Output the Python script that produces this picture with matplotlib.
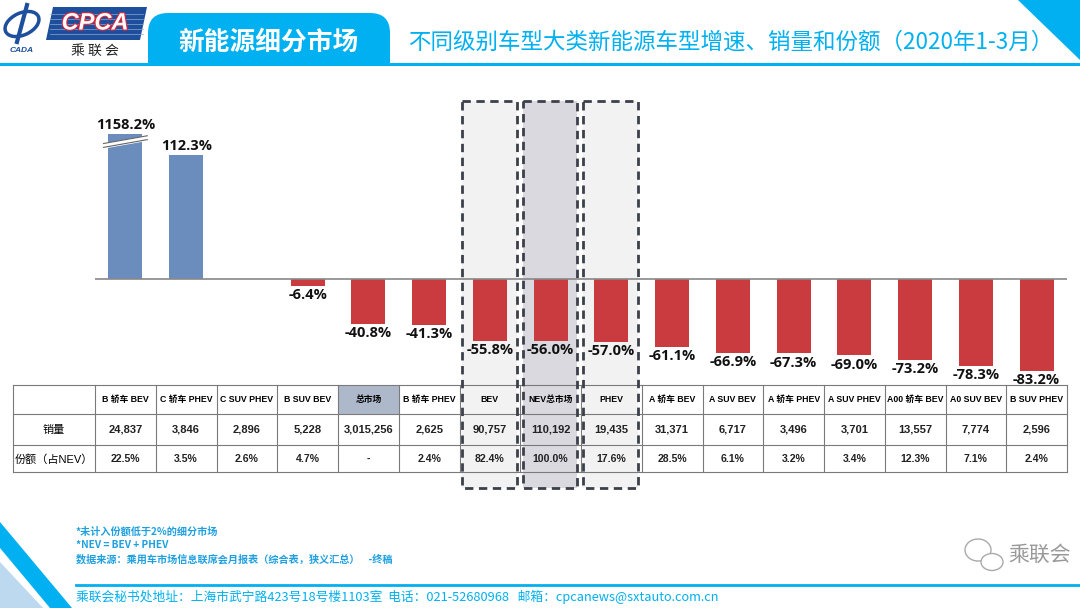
import numpy as np
import matplotlib
matplotlib.use("Agg")
import matplotlib.pyplot as plt
import matplotlib.patheffects as pe
from matplotlib.patches import Rectangle, Polygon, FancyBboxPatch, Ellipse, Arc
from matplotlib.transforms import blended_transform_factory

plt.rcParams['font.family'] = ['Open Sans', 'Noto Sans CJK SC', 'DejaVu Sans']

# 数据
categories = ["B 轿车 BEV", "C 轿车 PHEV", "C SUV PHEV", "B SUV BEV", "总市场", "B 轿车 PHEV",
              "BEV", "NEV总市场", "PHEV", "A 轿车 BEV", "A SUV BEV", "A 轿车 PHEV",
              "A SUV PHEV", "A00 轿车 BEV", "A0 SUV BEV", "B SUV PHEV"]
growth = [1158.2, 112.3, None, -6.4, -40.8, -41.3, -55.8, -56.0, -57.0,
          -61.1, -66.9, -67.3, -69.0, -73.2, -78.3, -83.2]
sales = ["24,837", "3,846", "2,896", "5,228", "3,015,256", "2,625", "90,757", "110,192",
         "19,435", "31,371", "6,717", "3,496", "3,701", "13,557", "7,774", "2,596"]
share = ["22.5%", "3.5%", "2.6%", "4.7%", "-", "2.4%", "82.4%", "100.0%",
         "17.6%", "28.5%", "6.1%", "3.2%", "3.4%", "12.3%", "7.1%", "2.4%"]
row_labels = ["销量", "份额（占NEV）"]
highlight = {"BEV": "#f2f2f2", "NEV总市场": "#d9d9df", "PHEV": "#f2f2f2"}

cap = 131  # 截断显示的上限
W, H = 1080, 608
CYAN = "#00b0f0"
BLUE = "#6b8dbe"
RED = "#c93b3e"

fig = plt.figure(figsize=(W / 100, H / 100), dpi=100)

# 背景装饰用的像素坐标轴
bg = fig.add_axes([0, 0, 1, 1], zorder=-5)
bg.set_xlim(0, W)
bg.set_ylim(H, 0)
bg.axis("off")

# 顶部标签页
tab = FancyBboxPatch((148, 13), 242, 70, boxstyle="round,pad=0,rounding_size=20",
                     fc=CYAN, ec="none")
bg.add_patch(tab)
bg.add_patch(Rectangle((140, 64), 260, 30, fc="white", ec="none", zorder=2))
bg.plot([0, W], [63.5, 63.5], color=CYAN, lw=2.2, zorder=3)
bg.text(268, 42, "新能源细分市场", color="white", fontsize=18.5, fontweight="bold",
        ha="center", va="center", family=["Noto Sans CJK SC"])
bg.text(408, 42, "不同级别车型大类新能源车型增速、销量和份额（2020年1-3月）", color=CYAN,
        fontsize=16.2, ha="left", va="center", family=["Noto Sans CJK SC"])
bg.add_patch(Polygon([(1018, 0), (W, 0), (W, 60)], closed=True, fc=CYAN, ec="none"))

# logo
bg.add_patch(Polygon([(53, 7), (147, 7), (140, 40), (46, 40)], closed=True, fc="#1d4f9c", ec="none"))
for yy in [14, 19, 24, 29, 34]:
    bg.plot([50, 143], [yy, yy], color="#8fa8d0", lw=0.5)
bg.text(95, 23, "CPCA", color="white", fontsize=17, fontstyle="italic", fontweight="bold",
        ha="center", va="center", family=["Liberation Sans"],
        path_effects=[pe.withStroke(linewidth=1.6, foreground="#e0283c")])
bg.text(95, 51, "乘 联 会", color="#222222", fontsize=10, ha="center", va="center",
        family=["Noto Sans CJK SC"])
bg.add_patch(Ellipse((22, 24), 36, 22, angle=-25, fc="none", ec="#1d4f9c", lw=2.5))
bg.plot([27, 17], [5, 42], color="#1d4f9c", lw=3)
bg.text(22, 50, "CADA", color="#1d4f9c", fontsize=6, fontstyle="italic", fontweight="bold",
        ha="center", va="center", family=["Liberation Sans"])

# 左下角装饰条
bg.add_patch(Polygon([(0, 522), (0, 548), (50, 608), (72, 608)], closed=True, fc=CYAN, ec="none"))
bg.add_patch(Polygon([(0, 562), (0, 608), (43, 608)], closed=True, fc="#bcd9f0", ec="none"))

# 脚注
notes = ["*未计入份额低于2%的细分市场", "*NEV = BEV + PHEV",
         "数据来源：乘用车市场信息联席会月报表（综合表，狭义汇总）    -终稿"]
for i, s in enumerate(notes):
    bg.text(76, 532 + 13.5 * i, s, color="#1ea0e0", fontsize=7.3, fontweight="bold",
            ha="left", va="center", family=["Noto Sans CJK SC"])
bg.plot([76, W], [585, 585], color=CYAN, lw=2)
bg.text(76, 597, "乘联会秘书处地址：上海市武宁路423号18号楼1103室  电话：021-52680968   邮箱：cpcanews@sxtauto.com.cn",
        color=CYAN, fontsize=9.2, ha="left", va="center", family=["Noto Sans CJK SC"])

# 水印
bg.add_patch(Ellipse((978, 550), 26, 22, fc="none", ec="#aaaaaa", lw=1))
bg.add_patch(Ellipse((992, 562), 22, 17, fc="white", ec="#aaaaaa", lw=1))
bg.text(1008, 555, "乘联会", color="#999999", fontsize=15, ha="left", va="center",
        family=["Noto Sans CJK SC"])

# 柱状图
px_per_pct = 1.106
zero_px = 279
ax_top, ax_bot = 95, 385
ax = fig.add_axes([95 / W, (H - ax_bot) / H, (1067 - 95) / W, (ax_bot - ax_top) / H])
ax.set_xlim(-0.5, len(categories) - 0.5)
ax.set_ylim(-(ax_bot - zero_px) / px_per_pct, (zero_px - ax_top) / px_per_pct)
ax.axis("off")
ax.patch.set_alpha(0)

x = np.arange(len(categories))
for i, v in enumerate(growth):
    if v is None:
        continue
    h = min(v, cap)
    ax.bar(x[i], h, width=0.56, color=BLUE if v > 0 else RED, zorder=2)
    if v > 0:
        ax.text(x[i], h + 2, f"{v:.1f}%", ha="center", va="bottom", fontsize=10.5,
                fontweight="bold", color="#111111")
    else:
        ax.text(x[i], h - 2, f"{v:.1f}%", ha="center", va="top", fontsize=10.5,
                fontweight="bold", color="#111111")
    if v > cap:
        # 截断标记
        xs = np.array([x[i] - 0.36, x[i] + 0.36])
        ax.fill_between(xs, [119, 126], [122.5, 129.5], color="white", zorder=3)
        ax.plot(xs, [119, 126], color="#666666", lw=0.8, zorder=4)
        ax.plot(xs, [122.5, 129.5], color="#666666", lw=0.8, zorder=4)

ax.axhline(0, color="#888888", lw=1.2, zorder=3)

# 虚线框
bt = blended_transform_factory(ax.transData, bg.transData)
for i, c in enumerate(categories):
    if c in highlight:
        bg.add_patch(Rectangle((x[i] - 0.46, 101), 0.9, 387, transform=bt,
                               fc=highlight[c], ec="none"))
        fig.add_artist(Rectangle((x[i] - 0.46, 101), 0.9, 387, transform=bt,
                                 fc="none", ec="#3c404a", lw=2, ls=(0, (3, 2)), zorder=10))

# 表格
tax = fig.add_axes([13 / W, (H - 473) / H, (1067 - 13) / W, (473 - 385) / H])
left = -0.5 - (95 - 13) / 60.75
tax.set_xlim(left, len(categories) - 0.5)
tax.set_ylim(473, 385)
tax.axis("off")
tax.patch.set_alpha(0)

rows_y = [385, 414, 445, 472]
tax.add_patch(Rectangle((categories.index("总市场") - 0.5, 385), 1, 29, fc="#adb9ca", ec="none"))
for yy in rows_y:
    tax.plot([left, len(categories) - 0.5], [yy, yy], color="#7a7a7a", lw=0.8, clip_on=False)
for xx in [left] + list(np.arange(len(categories) + 1) - 0.5):
    tax.plot([xx, xx], [385, 472], color="#7a7a7a", lw=0.8, clip_on=False)

tfont = ["Liberation Sans", "Noto Sans CJK SC"]
for i, c in enumerate(categories):
    tax.text(x[i], 399.5, c, ha="center", va="center", fontsize=6.3, fontweight="bold",
             family=tfont)
    tax.text(x[i], 430, sales[i], ha="center", va="center", fontsize=8, fontweight="bold",
             family=tfont, color="#222222")
    tax.text(x[i], 459, share[i], ha="center", va="center", fontsize=7.6, fontweight="bold",
             family=tfont, color="#222222")
tax.text((left - 0.5) / 2, 430, row_labels[0], ha="center", va="center", fontsize=8,
         family=tfont)
tax.text((left - 0.5) / 2, 459, row_labels[1], ha="center", va="center", fontsize=8,
         family=tfont)

fig.savefig("out.png", dpi=100)
